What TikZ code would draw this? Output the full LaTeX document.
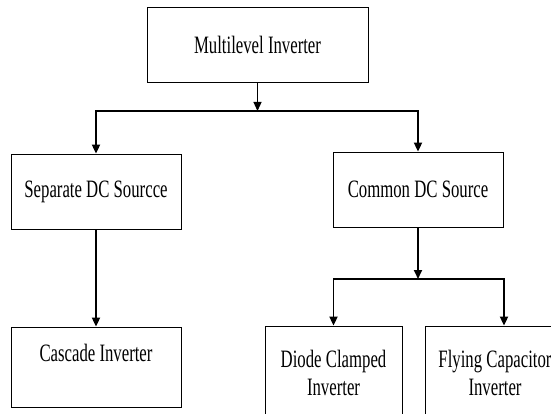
\documentclass[tikz,border=0pt]{standalone}
\usepackage{fontspec}
\setmainfont{Liberation Serif}[FakeStretch=0.67]
\usetikzlibrary{arrows.meta}

\tikzset{
  blk/.style={draw, line width=0.8pt, align=center, inner sep=0pt,
    font=\fontsize{25}{28}\selectfont},
  conn/.style={line width=1.8pt, -{Triangle[length=9pt,width=8pt]}},
}

\begin{document}
\begin{tikzpicture}[x=1pt,y=-1pt]
\useasboundingbox (0,0) rectangle (551,414);
\clip (0,0) rectangle (551,414);
% blocks
\node[blk, minimum width=221pt, minimum height=75pt] (mli) at (257.5,44.5) {Multilevel Inverter};
\node[blk, minimum width=170pt, minimum height=75pt] (sep) at (96,191.5) {Separate DC Sourcce};
\node[blk, minimum width=170pt, minimum height=75pt] (com) at (418,189.5) {Common DC Source};
\node[blk, minimum width=170pt, text height=34pt, text depth=46pt] (cas) at (96,367) {Cascade Inverter};
\node[blk, minimum width=137pt, minimum height=93pt] (dio) at (333.5,372.5) {Diode Clamped\\Inverter};
\node[blk, minimum width=139pt, minimum height=93pt] (fly) at (495,372.5) {Flying Capacitor\\Inverter};
% branch points
\coordinate (b1) at (257.5,111);
\coordinate (b2) at (418,279);
% connectors
\draw[conn, line width=1.2pt] (mli) -- (b1);
\draw[conn] (b1) -| (sep);
\draw[conn] (b1) -| (com);
\draw[conn] (sep) -- (cas);
\draw[conn] (com) -- (b2);
\draw[conn] (b2) -| (dio);
\draw[conn] (b2) -| ([xshift=9pt]fly.north);
\end{tikzpicture}
\end{document}
